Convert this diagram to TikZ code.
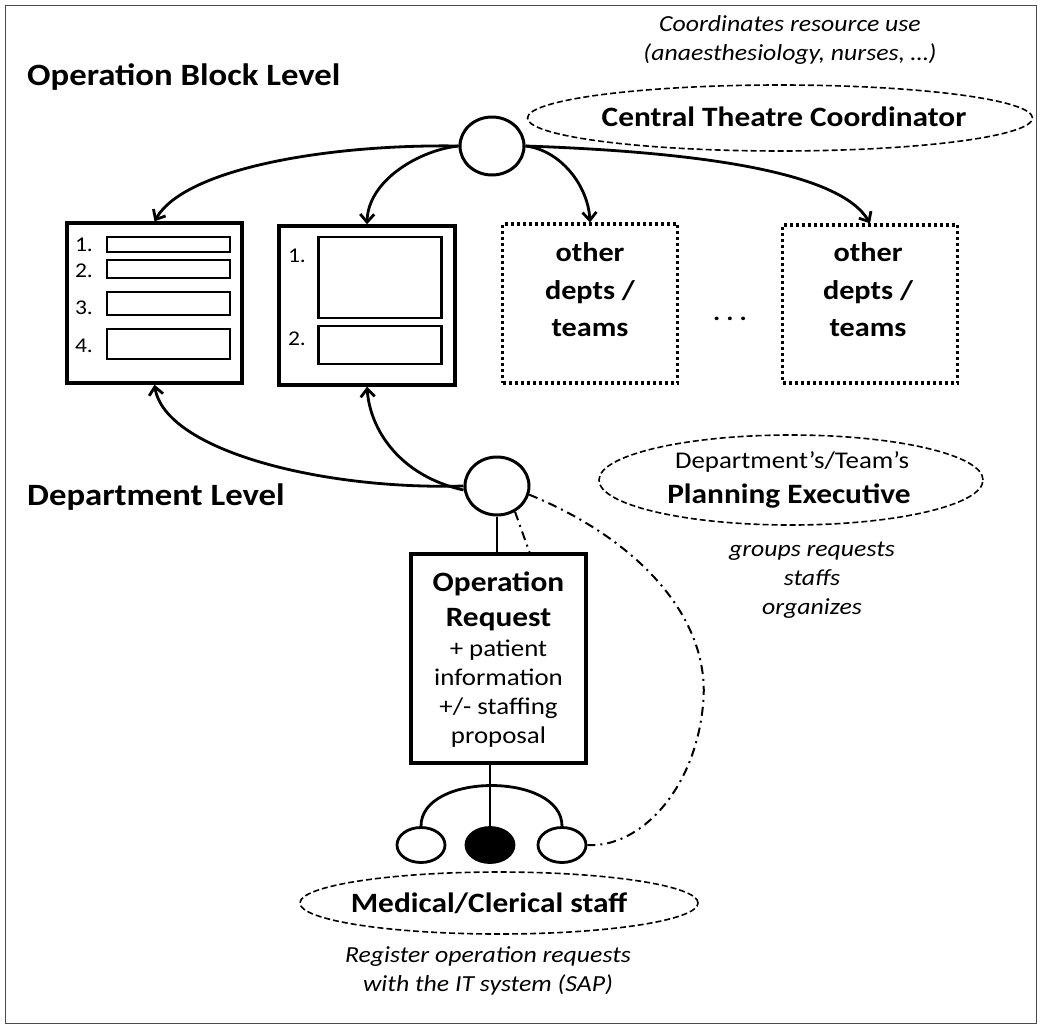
\documentclass[tikz,border=0pt]{standalone}
\usepackage{fontspec}
\setmainfont{Carlito}[FakeStretch=1.12]
\usetikzlibrary{arrows.meta,shapes.geometric}
\begin{document}
\begin{tikzpicture}[x=1pt,y=-1pt,
  hd/.style={font=\fontsize{31}{34}\selectfont\bfseries, anchor=west, inner sep=0},
  bt/.style={font=\fontsize{28}{36}\selectfont\bfseries, align=center, inner sep=0},
  rt/.style={font=\fontsize{24}{29}\selectfont, align=center, inner sep=0},
  it/.style={font=\fontsize{23}{29}\selectfont\itshape, align=center, inner sep=0},
  num/.style={font=\fontsize{21}{24}\selectfont, inner sep=0},
  solidbox/.style={draw, line width=3.4pt},
  bar/.style={draw, line width=2.8pt},
  dotbox/.style={draw, line width=3.2pt, dash pattern=on 3pt off 3pt},
  circ/.style={draw, ellipse, line width=3pt, minimum width=64pt, minimum height=58pt, inner sep=0},
  sm/.style={draw, ellipse, line width=2.8pt, minimum width=48pt, minimum height=35pt, inner sep=0},
  role/.style={draw, ellipse, line width=1.6pt, dash pattern=on 6pt off 3pt, inner sep=0},
  conn/.style={line width=2.8pt},
  arr/.style={line width=2.8pt, -{Straight Barb[length=8pt,width=14pt,line width=2.8pt]}},
  dd/.style={line width=2pt, dash pattern=on 9pt off 5pt on 2pt off 5pt}
]
\useasboundingbox (0,0) rectangle (1041,1028);
\draw[line width=1pt, black!70] (5,5) rectangle (1036,1023);

% headings
\node[hd] (h1) at (27,77) {Operation Block Level};
\node[hd] (h2) at (27,497) {Department Level};

% central theatre coordinator
\node[it] (ctct) at (790,40) {Coordinates resource use\\(anaesthesiology, nurses, \dots)};
\node[role, minimum width=505pt, minimum height=66pt] (cte) at (780,118) {};
\node[bt] (ctc) at (784,117) {Central Theatre Coordinator};
\node[circ] (c1) at (492,146) {};

% department boxes
\node[solidbox, minimum width=175pt, minimum height=160pt, inner sep=0] (b1) at (154.5,303) {};
\node[bar, minimum width=123pt, minimum height=15pt, inner sep=0] (b1a) at (168.5,244.5) {};
\node[bar, minimum width=123pt, minimum height=18pt, inner sep=0] (b1b) at (168.5,269) {};
\node[bar, minimum width=123pt, minimum height=23pt, inner sep=0] (b1c) at (168.5,303.5) {};
\node[bar, minimum width=123pt, minimum height=30pt, inner sep=0] (b1d) at (168.5,344) {};
\node[num] (n11) at (84,245) {1.};
\node[num] (n12) at (84,271) {2.};
\node[num] (n13) at (84,308) {3.};
\node[num] (n14) at (84,346) {4.};

\node[solidbox, minimum width=176pt, minimum height=159pt, inner sep=0] (b2) at (367,305.5) {};
\node[bar, minimum width=123pt, minimum height=81pt, inner sep=0] (b2a) at (380,277.5) {};
\node[bar, minimum width=123pt, minimum height=38pt, inner sep=0] (b2b) at (380,345) {};
\node[num] (n21) at (297,256) {1.};
\node[num] (n22) at (297,339) {2.};

\node[dotbox, minimum width=175pt, minimum height=159pt, inner sep=0] (b3) at (590,303.5) {};
\node[bt, font=\fontsize{27}{37.5}\selectfont\bfseries] (t3) at (590,290) {other\\depts /\\teams};
\node[dotbox, minimum width=175pt, minimum height=158pt, inner sep=0] (b4) at (870,304) {};
\node[bt, font=\fontsize{27}{37.5}\selectfont\bfseries] (t4) at (868,290) {other\\depts /\\teams};
\node[font=\fontsize{24}{24}\selectfont\bfseries, inner sep=0] (dots) at (730,319) {.\hspace{6pt}.\hspace{6pt}.};

% arrows from central coordinator
\draw[arr] (c1.west) .. controls (330,144) and (185,168) .. (b1.north);
\draw[arr] (c1.west) .. controls (420,150) and (368,180) .. (b2.north);
\draw[arr] (c1.east) .. controls (560,150) and (588,185) .. (b3.north);
\draw[arr] (c1.east) .. controls (700,152) and (840,172) .. (b4.north);

% planning executive
\node[circ] (c2) at (497,486) {};
\node[role, minimum width=384pt, minimum height=90pt] (pe) at (791,480) {};
\node[rt] (pe1) at (792,462) {Department's/Team's};
\node[bt] (pe2) at (789,496) {Planning Executive};
\node[it] (pet) at (812,580) {groups requests\\staffs\\organizes};

\draw[arr] (c2.west) .. controls (320,490) and (165,450) .. (b1.south);
\draw[arr] ([yshift=-4pt]c2.west) .. controls (400,476) and (370,430) .. (b2.south);

% operation request
\node[solidbox, minimum width=175pt, minimum height=209pt, inner sep=0] (or) at (498.5,658.5) {};
\node[bt, font=\fontsize{28}{35}\selectfont\bfseries] (ort) at (498.5,601) {Operation\\Request};
\node[rt, font=\fontsize{24}{29}\selectfont] (orsub) at (498.5,694) {+ patient\\information\\+/- staffing\\proposal};
\draw[conn] (c2.south) -- (c2.south |- or.north);

% staff
\node[sm] (ls) at (421,845) {};
\node[sm, fill=black] (ms) at (490,845) {};
\node[sm] (rs) at (562,845) {};
\draw[conn] (ms.north) -- (ms.north |- or.south);
\draw[conn] (ls.north) .. controls (421,772) and (562,772) .. (rs.north);

\node[role, minimum width=398pt, minimum height=62pt] (mce) at (499,903) {};
\node[bt] (mc) at (489,903) {Medical/Clerical staff};
\node[it] (mct) at (488,971) {Register operation requests\\with the IT system (SAP)};

% dash-dot links
\coordinate (ortop) at ([xshift=31pt]or.north);
\draw[dd] (c2.-15) .. controls (640,540) and (712,620) .. (703,705) .. controls (695,790) and (640,848) .. (rs.east);
\draw[dd] (c2.-55) -- (ortop);
\end{tikzpicture}
\end{document}
